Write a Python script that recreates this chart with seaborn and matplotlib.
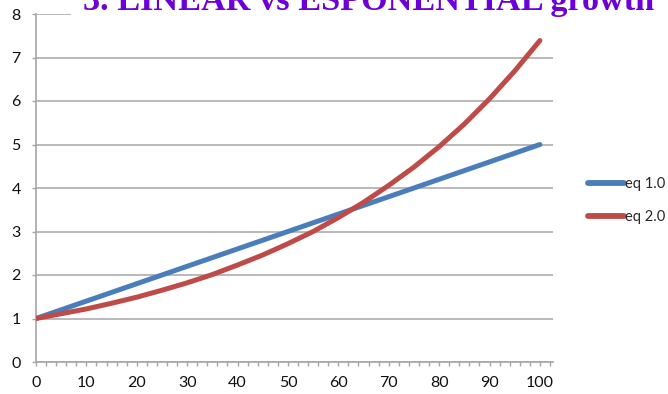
import numpy as np
import pandas as pd
import matplotlib
matplotlib.use("Agg")
import matplotlib.pyplot as plt
import seaborn as sns
from matplotlib.ticker import MultipleLocator

# --- data -------------------------------------------------------------
x_values = [0, 5, 10, 15, 20, 25, 30, 35, 40, 45, 50,
            55, 60, 65, 70, 75, 80, 85, 90, 95, 100]
eq1_values = [1.0, 1.2, 1.4, 1.6, 1.8, 2.0, 2.2, 2.4, 2.6, 2.8, 3.0,
              3.2, 3.4, 3.6, 3.8, 4.0, 4.2, 4.4, 4.6, 4.8, 5.0]
eq2_values = [1.00, 1.11, 1.22, 1.35, 1.49, 1.65, 1.82, 2.01, 2.23, 2.46, 2.72,
              3.00, 3.32, 3.67, 4.06, 4.48, 4.95, 5.47, 6.05, 6.69, 7.39]
series_names = ["eq 1.0", "eq 2.0"]
series_colors = ["#4A7EBB", "#BE4B48"]
title_text = "3. LINEAR vs ESPONENTIAL growth"
x_tick_labels = [0, 10, 20, 30, 40, 50, 60, 70, 80, 90, 100]
y_tick_labels = [0, 1, 2, 3, 4, 5, 6, 7, 8]

df = pd.DataFrame({
    "x": x_values * 2,
    "y": eq1_values + eq2_values,
    "series": [series_names[0]] * len(x_values) + [series_names[1]] * len(x_values),
})

# --- figure -----------------------------------------------------------
sns.set_style("white")
plt.rcParams["font.family"] = ["Lato", "DejaVu Sans"]

W, H = 668, 394
fig = plt.figure(figsize=(W / 100, H / 100), dpi=100)
ax_left, ax_right, ax_bottom, ax_top = 36, 553, 362, 14
ax = fig.add_axes([ax_left / W, 1 - ax_bottom / H,
                   (ax_right - ax_left) / W, (ax_bottom - ax_top) / H])

sns.lineplot(data=df, x="x", y="y", hue="series", palette=series_colors,
             linewidth=3.6, ax=ax, legend=True, zorder=3,
             solid_capstyle="round")

ax.set_xlim(0, 102.6)
ax.set_ylim(0, 8)
ax.set_xlabel("")
ax.set_ylabel("")

grid_gray = "#B3B3B3"
axis_gray = "#A6A6A6"

ax.set_yticks(y_tick_labels)
ax.set_yticklabels([str(v) for v in y_tick_labels])
ax.set_xticks(x_tick_labels)
ax.set_xticklabels([str(v) for v in x_tick_labels])
ax.xaxis.set_minor_locator(MultipleLocator(2))

ax.yaxis.grid(True, color=grid_gray, linewidth=1.3)
ax.xaxis.grid(False)
ax.set_axisbelow(True)

for side in ["top", "right"]:
    ax.spines[side].set_visible(False)
for side in ["left", "bottom"]:
    ax.spines[side].set_color(axis_gray)
    ax.spines[side].set_linewidth(1.2)

ax.tick_params(axis="y", which="major", direction="out", length=3,
               width=1, color=axis_gray, pad=8, labelsize=11.5,
               labelcolor="#111111", left=True)
ax.tick_params(axis="x", which="both", direction="out", length=3,
               width=1, color=axis_gray, pad=7, labelsize=11.5,
               labelcolor="#111111", bottom=True)

# legend to the right of the plot area
leg = ax.legend(loc="upper left", bbox_to_anchor=(588 / W, 1 - 177 / H),
                bbox_transform=fig.transFigure, frameon=False,
                fontsize=10.5, handlelength=2.5, handletextpad=0.05,
                labelspacing=1.3, borderpad=0, borderaxespad=0)
for line in leg.get_lines():
    line.set_linewidth(4.2)
    line.set_solid_capstyle("round")

# clipped heading across the top, on a white box over the top gridline
title_left, title_right, title_base = 83, 655, 10
t = fig.text(title_left / W, 1 - title_base / H, title_text,
             family=["Liberation Serif", "DejaVu Serif"], weight="bold",
             color="#6B00D7", fontsize=24, ha="left", va="baseline",
             zorder=10)
fig.canvas.draw()
w = t.get_window_extent(fig.canvas.get_renderer()).width
t.set_fontsize(24 * (title_right - title_left) / w)
t.set_bbox(dict(facecolor="white", edgecolor="none", pad=9))

fig.savefig("out.png", dpi=100)
